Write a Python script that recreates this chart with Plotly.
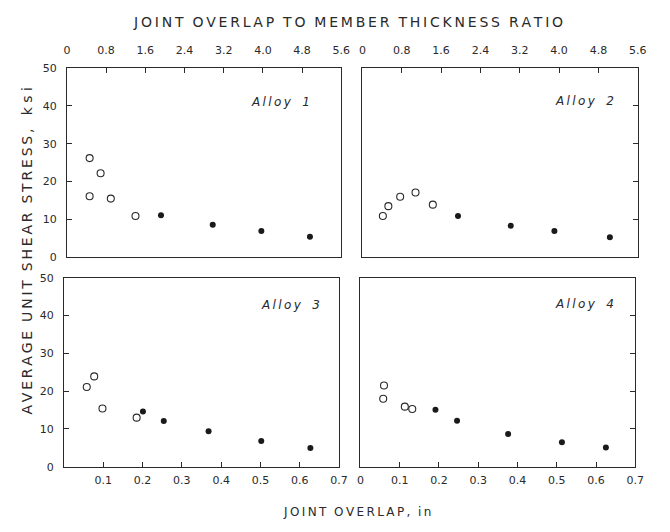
import plotly.graph_objects as go

# ---- data (joint overlap in inches, shear stress in ksi) ----
alloy1_open_x = [0.058, 0.058, 0.086, 0.112, 0.175]
alloy1_open_y = [26.2, 16.1, 22.2, 15.5, 10.9]
alloy1_fill_x = [0.240, 0.372, 0.496, 0.620]
alloy1_fill_y = [11.1, 8.6, 6.9, 5.4]

alloy2_open_x = [0.052, 0.066, 0.096, 0.135, 0.179]
alloy2_open_y = [10.9, 13.5, 16.0, 17.1, 13.9]
alloy2_fill_x = [0.243, 0.377, 0.488, 0.629]
alloy2_fill_y = [10.9, 8.3, 6.9, 5.3]

alloy3_open_x = [0.058, 0.077, 0.098, 0.185]
alloy3_open_y = [21.1, 23.9, 15.4, 13.0]
alloy3_fill_x = [0.201, 0.254, 0.368, 0.502, 0.627]
alloy3_fill_y = [14.6, 12.1, 9.4, 6.8, 5.0]

alloy4_open_x = [0.058, 0.060, 0.113, 0.132]
alloy4_open_y = [18.0, 21.5, 15.9, 15.3]
alloy4_fill_x = [0.191, 0.246, 0.376, 0.513, 0.625]
alloy4_fill_y = [15.1, 12.2, 8.7, 6.5, 5.1]

panel_labels = ["Alloy 1", "Alloy 2", "Alloy 3", "Alloy 4"]

ratio_ticks = [0, 0.8, 1.6, 2.4, 3.2, 4.0, 4.8, 5.6]
ratio_text = ["0", "0.8", "1.6", "2.4", "3.2", "4.0", "4.8", "5.6"]
overlap_ticks = [0.1, 0.2, 0.3, 0.4, 0.5, 0.6, 0.7]
overlap_text = ["0.1", "0.2", "0.3", "0.4", "0.5", "0.6", "0.7"]
stress_ticks = [0, 10, 20, 30, 40, 50]
stress_text = ["0", "10", "20", "30", "40", "50"]

# the page body keeps an 8px margin on every side; size the figure so the
# whole page is exactly 670x532
OFF = 8
W, H = 670 - 2 * OFF, 532 - 2 * OFF
INK = "#2a2a2a"
FONT = "DejaVu Sans"
NB = "\u00a0"
THIN = "\u2009"


def px(a, b):
    return [(a - OFF) / W, (b - OFF) / W]


def py(top, bottom):
    return [1 - (bottom - OFF) / H, 1 - (top - OFF) / H]


def ppx(a):
    return (a - OFF) / W


def ppy(b):
    return 1 - (b - OFF) / H


def spaced(text, word_gap=NB * 2):
    words = text.split(" ")
    return word_gap.join(THIN.join(list(w)) for w in words)


fig = go.Figure()

series = [
    (alloy1_open_x, alloy1_open_y, alloy1_fill_x, alloy1_fill_y, "x", "y"),
    (alloy2_open_x, alloy2_open_y, alloy2_fill_x, alloy2_fill_y, "x2", "y2"),
    (alloy3_open_x, alloy3_open_y, alloy3_fill_x, alloy3_fill_y, "x3", "y3"),
    (alloy4_open_x, alloy4_open_y, alloy4_fill_x, alloy4_fill_y, "x4", "y4"),
]
for ox, oy, fx, fy, xa, ya in series:
    fig.add_trace(go.Scatter(x=ox, y=oy, mode="markers", xaxis=xa, yaxis=ya,
                             marker=dict(symbol="circle-open", size=7, color=INK,
                                         line=dict(width=1.1, color=INK)),
                             showlegend=False, hoverinfo="skip"))
    fig.add_trace(go.Scatter(x=fx, y=fy, mode="markers", xaxis=xa, yaxis=ya,
                             marker=dict(symbol="circle", size=6, color="#1a1a1a"),
                             showlegend=False, hoverinfo="skip"))

# traces registering the top ratio axes (no visible marks)
fig.add_trace(go.Scatter(x=[0, 5.6], y=[None, None], xaxis="x5", yaxis="y",
                         mode="markers", showlegend=False, hoverinfo="skip"))
fig.add_trace(go.Scatter(x=[0, 5.6], y=[None, None], xaxis="x6", yaxis="y2",
                         mode="markers", showlegend=False, hoverinfo="skip"))

tickfont = dict(family=FONT, size=11, color=INK)
base_x = dict(range=[0, 0.7], showgrid=False, zeroline=False, showline=True,
              linecolor=INK, linewidth=1, mirror=True, fixedrange=True)
base_y = dict(range=[0, 50], showgrid=False, zeroline=False, showline=True,
              linecolor=INK, linewidth=1, mirror=True, fixedrange=True,
              tickvals=stress_ticks, ticktext=stress_text, ticks="inside",
              ticklen=5, tickcolor=INK, tickfont=tickfont)
ratio_axis = dict(range=[0, 5.6], side="top", showgrid=False, zeroline=False,
                  showline=False, fixedrange=True, tickvals=ratio_ticks,
                  ticktext=ratio_text, ticks="inside", ticklen=5, tickcolor=INK,
                  tickfont=tickfont, ticklabelstandoff=11)
overlap_axis = dict(ticks="inside", ticklen=5, tickcolor=INK, tickfont=tickfont,
                    ticklabelstandoff=3)

top_y = py(63.5, 257.5)
bot_y = py(278.5, 472.5)

fig.update_layout(
    width=W, height=H, autosize=False,
    margin=dict(l=0, r=0, t=0, b=0),
    paper_bgcolor="white", plot_bgcolor="white",
    xaxis=dict(base_x, domain=px(64, 344), anchor="y", showticklabels=False, ticks=""),
    yaxis=dict(base_y, domain=top_y, anchor="x", ticklabelstandoff=7),
    xaxis2=dict(base_x, domain=px(365.5, 646.5), anchor="y2", showticklabels=False, ticks=""),
    yaxis2=dict(base_y, domain=top_y, anchor="x2", side="right", showticklabels=False),
    xaxis3=dict(base_x, **overlap_axis, domain=px(61, 341.7), anchor="y3",
                tickvals=overlap_ticks, ticktext=overlap_text),
    yaxis3=dict(base_y, domain=bot_y, anchor="x3", ticklabelstandoff=7),
    xaxis4=dict(base_x, **overlap_axis, domain=px(363.5, 644), anchor="y4",
                tickvals=[0] + overlap_ticks, ticktext=["0"] + overlap_text),
    yaxis4=dict(base_y, domain=bot_y, anchor="x4", side="right", showticklabels=False),
    xaxis5=dict(ratio_axis, overlaying="x", anchor="y"),
    xaxis6=dict(ratio_axis, overlaying="x2", anchor="y2"),
)

# panel labels
label_pos = [(282, 98), (592, 97), (292, 307), (592, 305)]
for text, (lx, ly) in zip(panel_labels, label_pos):
    fig.add_annotation(x=ppx(lx), y=ppy(ly), xref="paper", yref="paper",
                       xanchor="center", yanchor="middle",
                       text=spaced(text, word_gap=NB * 3), showarrow=False,
                       font=dict(family=FONT, size=12, color=INK, style="italic"))

fig.add_annotation(x=ppx(351), y=ppy(16), xref="paper", yref="paper",
                   xanchor="center", yanchor="middle",
                   text=spaced("JOINT OVERLAP TO MEMBER THICKNESS RATIO"),
                   showarrow=False, font=dict(family=FONT, size=14, color=INK))
fig.add_annotation(x=ppx(360), y=ppy(519), xref="paper", yref="paper",
                   xanchor="center", yanchor="middle",
                   text=spaced("JOINT OVERLAP, in"),
                   showarrow=False, font=dict(family=FONT, size=12, color=INK))
fig.add_annotation(x=ppx(23), y=ppy(251), xref="paper", yref="paper",
                   xanchor="center", yanchor="middle",
                   text=spaced("AVERAGE UNIT SHEAR STRESS,") + NB * 3 +
                   ("k" + NB + "s" + NB + "i"),
                   textangle=-90, showarrow=False,
                   font=dict(family=FONT, size=14, color=INK))

fig.write_html("out.html")
